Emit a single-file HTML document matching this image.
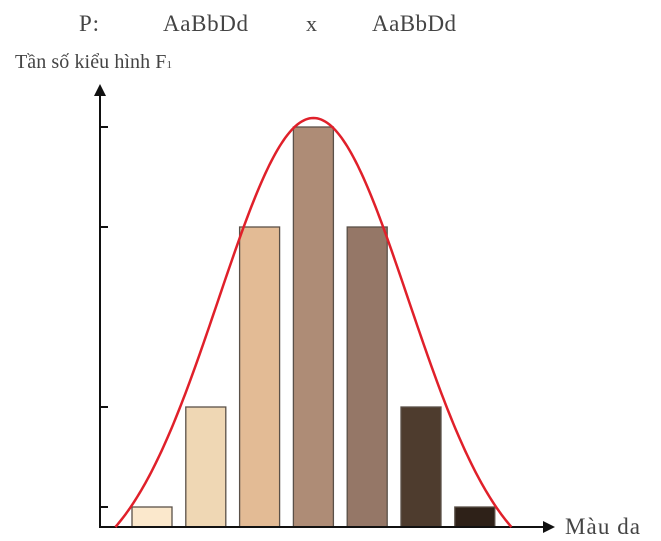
<!DOCTYPE html>
<html><head><meta charset="utf-8"><style>
body{margin:0;background:#fff;width:661px;height:541px;overflow:hidden;}
svg{display:block}
text{font-family:"Liberation Serif",serif;fill:#444}
</style></head><body>
<svg id="chart" width="661" height="541">
<text x="79" y="31" font-size="23" textLength="20">P:</text>
<text x="163" y="31" font-size="23" textLength="85">AaBbDd</text>
<text x="306" y="31" font-size="22" font-family="Liberation Sans">x</text>
<text x="372" y="31" font-size="23" textLength="84">AaBbDd</text>
<text x="15" y="68" font-size="20" textLength="157">Tần số kiểu hình F<tspan font-size="11">1</tspan></text>
<text x="565" y="534" font-size="23" textLength="75">Màu da</text>
<g id="bars"></g>
<line x1="100" y1="527" x2="100" y2="92" stroke="#111" stroke-width="2"/>
<polygon points="100,84 94,96 106,96" fill="#111"/>
<line x1="99" y1="527" x2="545" y2="527" stroke="#111" stroke-width="2"/>
<polygon points="555,527 543,521 543,533" fill="#111"/>
<g id="ticks"></g>
<path id="curve" fill="none" stroke="#e0202a" stroke-width="2.5"/>
</svg>
<script>
const categories=["0 trội","1 trội","2 trội","3 trội","4 trội","5 trội","6 trội"];
const values=[1,6,15,20,15,6,1];
const colors=["#fbe8cc","#efd7b4","#e3bb95","#ae8c76","#957767","#4e3c2e","#2e2118"];
const tickValues=[1,6,15,20];
const ns="http://www.w3.org/2000/svg";
const baseY=527, unit=20, x0=132, step=53.8, bw=40;
const yS=v=>baseY-v*unit, xS=i=>x0+i*step;
const bars=document.getElementById('bars');
values.forEach((v,i)=>{
 const r=document.createElementNS(ns,'rect');
 r.setAttribute('x',xS(i));r.setAttribute('y',yS(v));
 r.setAttribute('width',bw);r.setAttribute('height',baseY-yS(v));
 r.setAttribute('fill',colors[i]);r.setAttribute('stroke','#5a5048');r.setAttribute('stroke-width','1.3');
 
 
 bars.appendChild(r);
});
const ticks=document.getElementById('ticks');
tickValues.forEach(t=>{
 const l=document.createElementNS(ns,'line');
 l.setAttribute('x1',100);l.setAttribute('x2',108);l.setAttribute('y1',yS(t));l.setAttribute('y2',yS(t));
 l.setAttribute('stroke','#111');l.setAttribute('stroke-width','2');
 
 
 ticks.appendChild(l);
});
const cx=xS(3)+bw/2, peak=Math.max(...values)*unit+9, half=198, s=95;
const gEnd=Math.exp(-half*half/(2*s*s));
let d='';
for(let x=cx-half;x<=cx+half+0.1;x+=2){
 const g=Math.exp(-(x-cx)*(x-cx)/(2*s*s));
 const y=baseY-peak*(g-gEnd)/(1-gEnd);
 d+=(d?'L':'M')+x.toFixed(1)+','+y.toFixed(1);
}
document.getElementById('curve').setAttribute('d',d);
</script>
</body></html>
